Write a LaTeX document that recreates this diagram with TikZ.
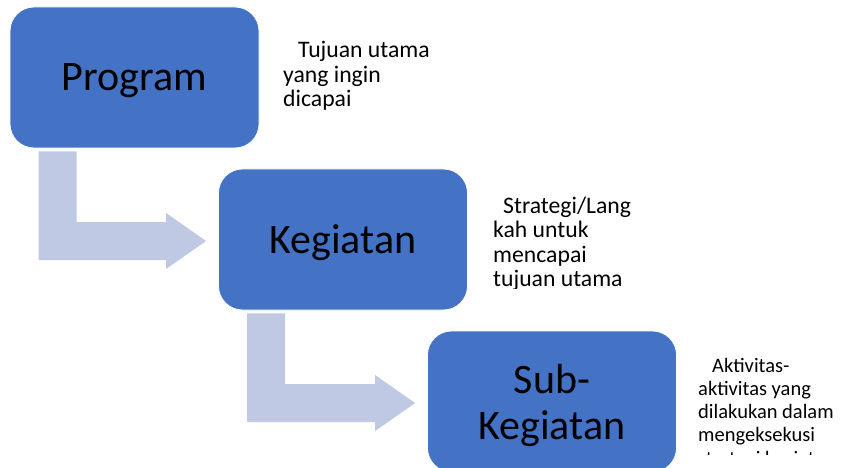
\documentclass[tikz,border=0pt]{standalone}
\usepackage{fontspec}
\setmainfont{Carlito}
\usetikzlibrary{calc}

\definecolor{boxblue}{HTML}{4472C4}
\definecolor{arrowblue}{RGB}{191,201,227}

\tikzset{
  block/.style={fill=boxblue, draw=white, line width=0.8pt, rounded corners=24pt,
    minimum width=249pt, minimum height=141pt, inner sep=0pt, text depth=0pt,
    align=center, font=\fontsize{42}{46}\selectfont},
  note/.style={anchor=base west, inner sep=0pt, align=left,
    font=\fontsize{23.7}{24.5}\selectfont},
  arrowfill/.style={fill=arrowblue}
}

\begin{document}
\begin{tikzpicture}[x=1pt,y=-1pt]
  \useasboundingbox (0,0) rectangle (841,468);
  \node[block] (prog) at (134.5,77.5) {Program};
  \node[block] (keg) at (343,239.5) {Kegiatan};
  \node[block] (sub) at (552,401.5) {Sub-\\Kegiatan};

  % bent arrows
  \foreach \a/\b in {prog/keg,keg/sub}
    \fill[arrowfill] let \p1=(\a.south west), \p2=(\b.west) in
      (\x1+29pt,\y1-3pt) -- (\x1+67pt,\y1-3pt) -- (\x1+67pt,\y2+17.5pt)
      -- (\x2-52pt,\y2+17.5pt) -- (\x2-52pt,\y2+26.5pt) -- (\x2-12pt,\y2-1.5pt)
      -- (\x2-52pt,\y2-29.5pt) -- (\x2-52pt,\y2-20.5pt) -- (\x1+29pt,\y2-20.5pt) -- cycle;

  % side notes (anchored at the baseline of their last line)
  \node[note] (goal) at (283,107) {\hspace*{15pt}Tujuan utama\\yang ingin\\dicapai};
  \begin{scope}
    \clip (480,160) rectangle (700,288);
    \node[note] (strat) at (493,286.5) {\hspace*{10pt}Strategi/Lang\\kah untuk\\mencapai\\tujuan utama};
  \end{scope}
  \begin{scope}
    \clip (690,330) rectangle (841,454);
    \node[note, font=\fontsize{20.5}{23.3}\selectfont] (act) at (698,465.2)
      {\hspace*{14pt}Aktivitas-\\aktivitas yang\\dilakukan dalam\\mengeksekusi\\strategi kegiatan};
  \end{scope}
\end{tikzpicture}
\end{document}
